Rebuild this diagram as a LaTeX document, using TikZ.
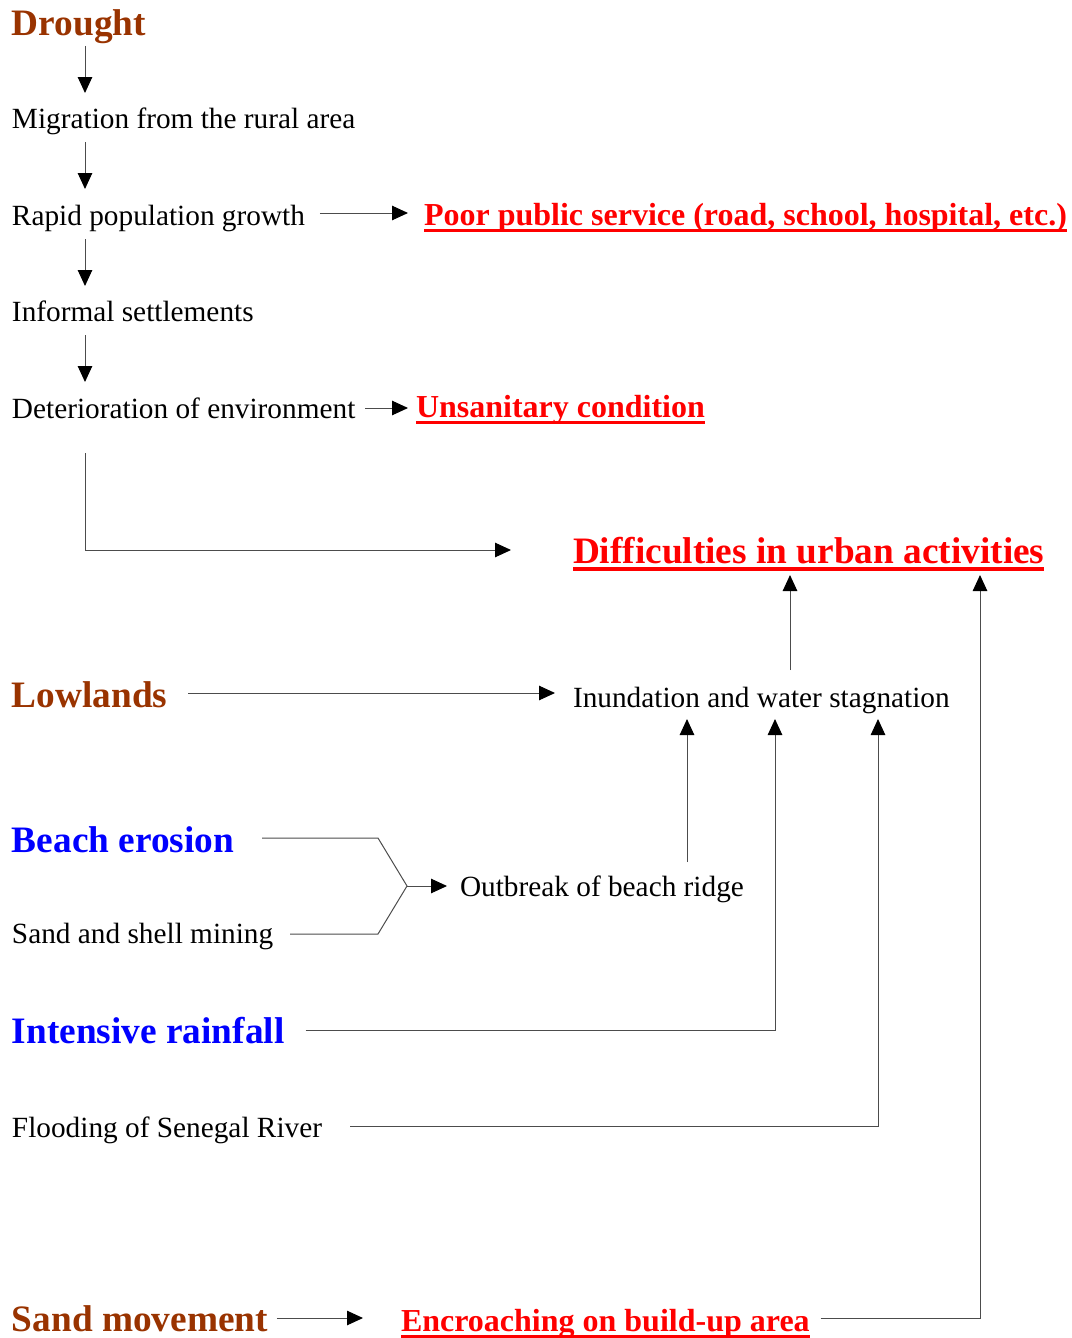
\documentclass[tikz,border=0pt]{standalone}
\usepackage{fontspec}
\setmainfont{Liberation Serif}
\usetikzlibrary{arrows.meta,calc}

\definecolor{brownhead}{RGB}{153,51,0}
\definecolor{bluehead}{RGB}{0,0,255}
\definecolor{redhead}{RGB}{255,0,0}

\tikzset{
  txt/.style={inner sep=0pt, outer sep=0pt, anchor=base west,
              font=\fontsize{29.3}{34}\selectfont},
  head/.style={txt, font=\fontsize{37.3}{42}\selectfont\bfseries},
  brownh/.style={head, text=brownhead},
  blueh/.style={head, text=bluehead},
  redh/.style={txt, font=\fontsize{32}{38}\selectfont\bfseries, text=redhead},
  bigred/.style={head, text=redhead},
  ul/.style={draw=redhead, line width=3pt},
  conn/.style={draw=black!70, line width=1pt},
  arr/.style={conn, -{Triangle[length=16pt,width=14.5pt,color=black]}},
}

\begin{document}
\begin{tikzpicture}[x=1pt,y=-1pt]
\useasboundingbox (0,0) rectangle (1071,1338);

% --- text nodes ---
\node[brownh] (drought)  at (12,36)   {Drought};
\node[txt]    (migr)     at (12,128)  {Migration from the rural area};
\node[txt]    (rapid)    at (12,225)  {Rapid population growth};
\node[redh]   (poor)     at (424,225) {Poor public service (road, school, hospital, etc.)};
\node[txt]    (informal) at (12,321)  {Informal settlements};
\node[txt]    (deter)    at (12,418)  {Deterioration of environment};
\node[redh]   (unsan)    at (416,417) {Unsanitary condition};
\node[bigred] (diff)     at (573,563) {Difficulties in urban activities};
\node[brownh] (low)      at (12,707)  {Lowlands};
\node[txt]    (inund)    at (573,707) {Inundation and water stagnation};
\node[blueh]  (beach)    at (12,852)  {Beach erosion};
\node[txt]    (sand)     at (12,943)  {Sand and shell mining};
\node[txt]    (outb)     at (460,896) {Outbreak of beach ridge};
\node[blueh]  (rain)     at (12,1043) {Intensive rainfall};
\node[txt]    (flood)    at (12,1137) {Flooding of Senegal River};
\node[brownh] (sandmv)   at (12,1331) {Sand movement};
\node[redh]   (encr)     at (401,1331) {Encroaching on build-up area};

% --- underlines of the outcome labels ---
\draw[ul] ([yshift=-5pt]poor.base west)  -- ([yshift=-5pt]poor.base east);
\draw[ul] ([yshift=-5pt]unsan.base west) -- ([yshift=-5pt]unsan.base east);
\draw[ul] ([yshift=-5pt]encr.base west)  -- ([yshift=-5pt]encr.base east);
\draw[ul, line width=3.6pt] ([yshift=-6pt]diff.base west) -- ([yshift=-6pt]diff.base east);

% --- the urban chain ---
\draw[arr] ([xshift=73pt,yshift=-10pt]drought.base west) -- ([xshift=73pt,yshift=35pt]migr.base west);
\draw[arr] ([xshift=73pt,yshift=-14pt]migr.base west) -- ([xshift=73pt,yshift=36pt]rapid.base west);
\draw[arr] ([xshift=73pt,yshift=-14pt]rapid.base west) -- ([xshift=73pt,yshift=35pt]informal.base west);
\draw[arr] ([xshift=73pt,yshift=-14pt]informal.base west) -- ([xshift=73pt,yshift=36pt]deter.base west);
\draw[arr] ([xshift=15pt,yshift=12pt]rapid.base east) -- ([xshift=-16pt,yshift=12pt]poor.base west);
\draw[arr] ([xshift=10pt,yshift=10pt]deter.base east) -- ([xshift=-8pt,yshift=9pt]unsan.base west);
\draw[arr] ([xshift=73pt,yshift=-35pt]deter.base west) |- ([xshift=-62pt,yshift=13pt]diff.base west);

% --- inundation ---
\draw[arr] ([xshift=21pt,yshift=14pt]low.base east) -- ([xshift=-18pt,yshift=14pt]inund.base west);
\draw[arr] ([xshift=217pt,yshift=37pt]inund.base west) -- ([xshift=217pt,yshift=-12pt]diff.base west);

% --- beach ridge bracket ---
\coordinate (join) at ([xshift=-53pt,yshift=10pt]outb.base west);
\coordinate (jt) at ($(join)+(-29,-48)$);
\coordinate (jb) at ($(join)+(-29,48)$);
\draw[conn] ([xshift=28pt,yshift=14pt]beach.base east) -- (jt) -- (join) -- (jb)
            -- ([xshift=17pt,yshift=9pt]sand.base east);
\draw[arr] (join) -- ([xshift=-13pt,yshift=10pt]outb.base west);
\draw[arr] ([xshift=227pt,yshift=34pt]outb.base west) -- ([xshift=114pt,yshift=-12pt]inund.base west);

% --- rainfall and river flooding ---
\draw[arr] ([xshift=21pt,yshift=13pt]rain.base east) -| ([xshift=202pt,yshift=-12pt]inund.base west);
\draw[arr] ([xshift=28pt,yshift=11pt]flood.base east) -| ([xshift=305pt,yshift=-12pt]inund.base west);

% --- sand movement ---
\draw[arr] ([xshift=9pt,yshift=13pt]sandmv.base east) -- ([xshift=-38pt,yshift=13pt]encr.base west);
\draw[arr] ([xshift=11pt,yshift=13pt]encr.base east) -| ([xshift=407pt,yshift=-12pt]diff.base west);
\end{tikzpicture}
\end{document}
